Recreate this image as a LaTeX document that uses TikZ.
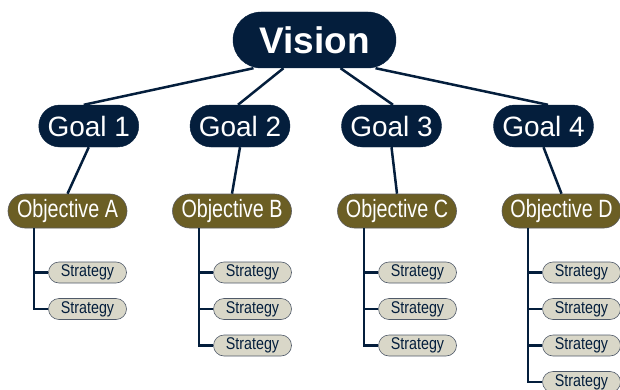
\documentclass[tikz,border=0pt]{standalone}
\usepackage{fontspec}
\setmainfont{Liberation Sans}
\newfontfamily\objfont[FakeStretch=0.79]{Liberation Sans}
\newfontfamily\stratfont[FakeStretch=0.84]{Liberation Sans}
\usetikzlibrary{calc}
\definecolor{navy}{RGB}{4,30,60}
\definecolor{olive}{RGB}{107,94,36}
\definecolor{stratfill}{RGB}{217,215,200}
\definecolor{stratline}{RGB}{80,90,105}
\definecolor{objline}{RGB}{90,90,90}
\tikzset{
  pill/.style={inner sep=0pt, align=center},
  visionbox/.style={pill, fill=navy, draw=navy, minimum width=163pt, minimum height=56pt, rounded corners=28pt, text=white, font=\fontsize{37}{40}\selectfont\bfseries},
  goalbox/.style={pill, fill=navy, draw=navy, minimum width=100pt, minimum height=42pt, rounded corners=21pt, text=white, font=\fontsize{28}{30}\selectfont},
  objbox/.style={pill, fill=olive, draw=objline, line width=0.6pt, minimum width=119pt, minimum height=34pt, rounded corners=17pt, text=white, font=\objfont\fontsize{25}{27}\selectfont},
  stratbox/.style={pill, fill=stratfill, draw=stratline, line width=0.6pt, minimum width=78pt, minimum height=21pt, rounded corners=10.5pt, text=navy, font=\stratfont\fontsize{17}{19}\selectfont},
  link/.style={draw=navy, line width=2.5pt},
}
\begin{document}
\begin{tikzpicture}[x=1pt,y=1pt]
\useasboundingbox (0,0) rectangle (620,389);
\clip (0,0) rectangle (620,389);
\path
  (314.5,349) coordinate (cv)
  (88.75,263) coordinate (cg1) (240,263) coordinate (cg2)
  (391.5,263) coordinate (cg3) (543.5,263) coordinate (cg4)
  (67.5,178) coordinate (co1) (232,178) coordinate (co2)
  (397,178) coordinate (co3) (561.5,178) coordinate (co4);
% Nodes
\node[visionbox] (vision) at (cv) {Vision};
\node[goalbox] (g1) at (cg1) {Goal 1};
\node[goalbox] (g2) at (cg2) {Goal 2};
\node[goalbox] (g3) at (cg3) {Goal 3};
\node[goalbox] (g4) at (cg4) {Goal 4};
\node[objbox] (oA) at (co1) {Objective A};
\node[objbox] (oB) at (co2) {Objective B};
\node[objbox] (oC) at (co3) {Objective C};
\node[objbox] (oD) at (co4) {Objective D};
\node[stratbox] (sA1) at (87.5,116.5) {Strategy};
\node[stratbox] (sA2) at (87.5,80) {Strategy};
\node[stratbox] (sB1) at (252.5,116.5) {Strategy};
\node[stratbox] (sB2) at (252.5,80) {Strategy};
\node[stratbox] (sB3) at (252.5,43.5) {Strategy};
\node[stratbox] (sC1) at (417.5,116.5) {Strategy};
\node[stratbox] (sC2) at (417.5,80) {Strategy};
\node[stratbox] (sC3) at (417.5,43.5) {Strategy};
\node[stratbox] (sD1) at (581.5,116.5) {Strategy};
\node[stratbox] (sD2) at (581.5,80) {Strategy};
\node[stratbox] (sD3) at (581.5,43.5) {Strategy};
\node[stratbox] (sD4) at (581.5,7) {Strategy};
% Vision to goals
\draw[link] ($(vision.south)+(-61,0)$) -- ($(g1.north)+(-5,0)$);
\draw[link] ($(vision.south)+(-31,0)$) -- ($(g2.north)+(-2,0)$);
\draw[link] ($(vision.south)+(26,0)$) -- ($(g3.north)+(1.5,0)$);
\draw[link] ($(vision.south)+(61,0)$) -- ($(g4.north)+(4.5,0)$);
% Goals to objectives
\draw[link] (g1.south) -- (oA.north);
\draw[link] (g2.south) -- (oB.north);
\draw[link] (g3.south) -- (oC.north);
\draw[link] (g4.south) -- (oD.north);
% Objective trunks
\coordinate (vA) at ($(oA.south)+(-33.5,0)$);
\coordinate (vB) at ($(oB.south)+(-33,0)$);
\coordinate (vC) at ($(oC.south)+(-33,0)$);
\coordinate (vD) at ($(oD.south)+(-33.5,0)$);
\draw[link] (vA) |- (sA2.west);
\draw[link] (sA1.west -| vA) -- (sA1.west);
\draw[link] (vB) |- (sB3.west);
\draw[link] (sB1.west -| vB) -- (sB1.west);
\draw[link] (sB2.west -| vB) -- (sB2.west);
\draw[link] (vC) |- (sC3.west);
\draw[link] (sC1.west -| vC) -- (sC1.west);
\draw[link] (sC2.west -| vC) -- (sC2.west);
\draw[link] (vD) |- (sD4.west);
\draw[link] (sD1.west -| vD) -- (sD1.west);
\draw[link] (sD2.west -| vD) -- (sD2.west);
\draw[link] (sD3.west -| vD) -- (sD3.west);
\end{tikzpicture}
\end{document}
